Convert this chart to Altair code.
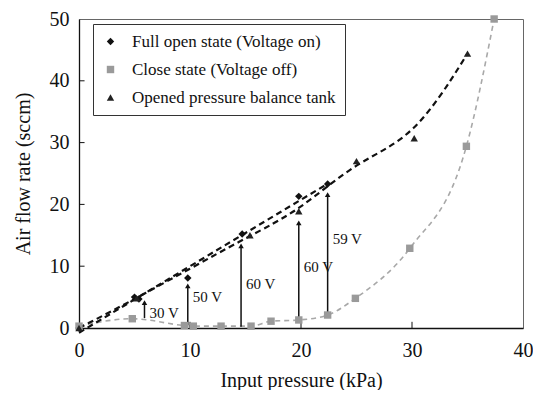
import altair as alt
import pandas as pd

series_names = ["Full open state (Voltage on)", "Close state (Voltage off)", "Opened pressure balance tank"]

open_x = [0, 5.0, 5.4, 9.8, 14.7, 19.8, 22.4]
open_y = [0, 5.0, 4.7, 8.1, 15.2, 21.3, 23.3]

close_x = [0, 4.8, 9.5, 10.3, 12.8, 15.5, 17.3, 19.8, 22.4, 24.9, 29.8, 34.9, 37.4]
close_y = [0.3, 1.5, 0.4, 0.3, 0.3, 0.3, 1.1, 1.3, 2.1, 4.8, 12.9, 29.4, 50]

tank_x = [0, 5.2, 15.4, 19.8, 25.0, 30.2, 35.0]
tank_y = [0, 4.8, 15.0, 18.9, 27.0, 30.7, 44.4]

arrow_x = [5.9, 9.8, 14.6, 19.8, 22.4]
arrow_y0 = [1.6, 0.5, 0.2, 1.4, 2.2]
arrow_y1 = [4.1, 6.8, 13.3, 17.0, 21.6]
arrow_text = ["30 V", "50 V", "60 V", "60 V", "59 V"]
arrow_text_y = [2.4, 5.0, 7.1, 9.9, 14.4]

x_ticks = [0, 10, 20, 30, 40]
y_ticks = [0, 10, 20, 30, 40, 50]

FONT = "Liberation Serif"

pts = pd.concat([
    pd.DataFrame({"x": open_x, "y": open_y, "series": series_names[0]}),
    pd.DataFrame({"x": close_x, "y": close_y, "series": series_names[1]}),
    pd.DataFrame({"x": tank_x, "y": tank_y, "series": series_names[2]}),
], ignore_index=True)
df_open = pts[pts.series == series_names[0]]
df_close = pts[pts.series == series_names[1]]
df_tank = pts[pts.series == series_names[2]]
arrows = pd.DataFrame({"x": arrow_x, "y0": arrow_y0, "y1": arrow_y1,
                       "label": arrow_text, "ly": arrow_text_y})
# inward tick marks (the axes of the original draw their ticks inside the frame)
xticks_in = pd.DataFrame({"x": x_ticks[1:4], "y0": [0] * 3, "y1": [1.0] * 3})
yticks_in = pd.DataFrame({"y": y_ticks[1:5], "x0": [0] * 4, "x1": [0.5] * 4})

xs = alt.Scale(domain=[0, 40], nice=False)
ys = alt.Scale(domain=[0, 50], nice=False)
X = alt.X("x:Q", scale=xs,
          axis=alt.Axis(title="Input pressure (kPa)", values=x_ticks, grid=False, ticks=False,
                        labelFlush=False, labelPadding=12, titlePadding=10))
Y = alt.Y("y:Q", scale=ys,
          axis=alt.Axis(title="Air flow rate (sccm)", values=y_ticks, grid=False, ticks=False,
                        labelFlush=False, labelPadding=10, titlePadding=16))

line_open = alt.Chart(df_open).transform_regression(
    "x", "y", method="linear", extent=[0, 22.4]
).mark_line(color="#111", strokeDash=[6, 4], strokeWidth=2.2).encode(x=X, y=Y)

line_tank = alt.Chart(df_tank).mark_line(
    color="#111", strokeDash=[6, 4], strokeWidth=2.2, interpolate="basis"
).encode(x=X, y=Y, order="x:Q")

line_close = alt.Chart(df_close).mark_line(
    color="#a8a8a8", strokeDash=[5, 4], strokeWidth=1.6, interpolate="monotone", clip=True
).encode(x=X, y=Y, order="x:Q")

points = alt.Chart(pts).mark_point(filled=True, size=55, opacity=1).encode(
    x=X, y=Y,
    shape=alt.Shape("series:N", scale=alt.Scale(domain=series_names,
                                                range=["diamond", "square", "triangle-up"]),
                    legend=alt.Legend(title=None, labelExpr="datum.label + '     '")),
    color=alt.Color("series:N", scale=alt.Scale(domain=series_names,
                                                range=["#111111", "#9a9a9a", "#222222"]),
                    legend=alt.Legend(title=None, labelExpr="datum.label + '     '")),
)

shafts = alt.Chart(arrows).mark_rule(color="#111", strokeWidth=1.5).encode(
    x=X, y=alt.Y("y0:Q", scale=ys), y2="y1:Q")
heads = alt.Chart(arrows).mark_point(shape="triangle-up", filled=True, size=30,
                                     color="#111", opacity=1).encode(
    x=X, y=alt.Y("y1:Q", scale=ys))
labels = alt.Chart(arrows).mark_text(align="left", dx=5, font=FONT, fontSize=15,
                                     color="#111").encode(
    x=X, y=alt.Y("ly:Q", scale=ys), text="label:N")
xt = alt.Chart(xticks_in).mark_rule(color="#111", strokeWidth=1).encode(
    x=X, y=alt.Y("y0:Q", scale=ys), y2="y1:Q")
yt = alt.Chart(yticks_in).mark_rule(color="#111", strokeWidth=1).encode(
    y=Y, x=alt.X("x0:Q", scale=xs), x2="x1:Q")

chart = alt.layer(
    line_close, line_open, line_tank, xt, yt, shafts, heads, points, labels
).properties(
    width=444, height=309, padding={"left": 5, "top": 1, "right": 0, "bottom": 0}
).configure_view(
    stroke="#666", strokeWidth=1
).configure_axis(
    labelFont=FONT, titleFont=FONT, labelFontSize=20, titleFontSize=20,
    labelColor="#111", titleColor="#111", titleFontWeight="normal",
    domainColor="#111", domainWidth=1.3, tickColor="#111"
).configure_legend(
    orient="none", legendX=14, legendY=5, strokeColor="#333", fillColor="white",
    padding=9, labelFont=FONT, labelFontSize=17, labelColor="#111",
    symbolSize=55, rowPadding=10, symbolStrokeWidth=0, labelLimit=500, labelOffset=13
)

chart.save("out.html", embed_options={"renderer": "svg", "actions": False})
